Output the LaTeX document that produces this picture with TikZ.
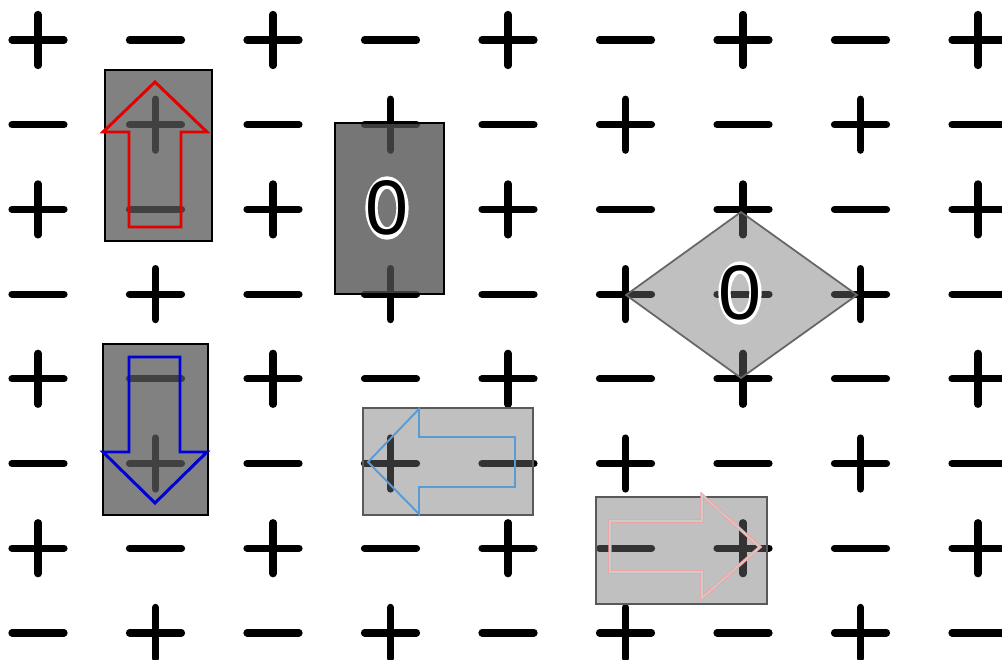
\documentclass[tikz,border=0pt]{standalone}
\usepackage{fontspec}
\setmainfont{Liberation Sans}
\begin{document}
\begin{tikzpicture}[x=0.02cm,y=-0.02cm,
  sign/.style={line width=4.1pt,line cap=round,black},
  darkbox/.style={draw=black,line width=1.2pt,fill=black!66,fill opacity=0.75},
  zerobox/.style={draw=black,line width=1.2pt,fill=black!69,fill opacity=0.78},
  lightbox/.style={draw=black!65,line width=1.1pt,fill=black!55,fill opacity=0.45},
  halo/.style={draw=white,line width=7pt},
  zero/.style={inner sep=0pt,font=\fontsize{44}{48}\selectfont}
]
\useasboundingbox (0,0) rectangle (1002,660);

% checkerboard of charges: + where column+row is even, - otherwise;
% the charge under the upright neutral cell is covered by its label
\foreach \i in {0,...,8}{
  \foreach \j in {0,...,7}{
    \pgfmathsetmacro{\cx}{38+117.5*\i}
    \pgfmathsetmacro{\cy}{40+84.7*\j}
    \pgfmathtruncatemacro{\parity}{mod(\i+\j,2)}
    \pgfmathtruncatemacro{\hidden}{(\i==3)&&(\j==2)}
    \ifnum\hidden=0
      \draw[sign] (\cx-26,\cy) -- (\cx+26,\cy);
      \ifnum\parity=0
        \draw[sign] (\cx,\cy-25.5) -- (\cx,\cy+25.5);
      \fi
    \fi
  }
}

% dipole pointing up
\draw[darkbox] (105,70) rectangle (212,241);
\draw[red!90!black,line width=1.7pt,line join=miter]
  (155,82) -- (207,132) -- (181,132) -- (181,227) -- (129,227) -- (129,132) -- (103,132) -- cycle;

% dipole pointing down
\draw[darkbox] (103,344) rectangle (208,515);
\draw[blue!85!black,line width=1.7pt,line join=miter]
  (129,357) -- (180,357) -- (180,452) -- (207,452) -- (155,503) -- (103,452) -- (129,452) -- cycle;

% neutral cell, vertical
\draw[zerobox] (335,123) rectangle (444,294);
\draw[halo] (387,208) ellipse [x radius=0.31cm,y radius=0.51cm];
\node[zero] (z1) at (387,208) {0};

% neutral cell, diamond
\draw[lightbox,draw=black!60,line width=1pt] (741,212) -- (857,295) -- (741,378) -- (626,295) -- cycle;
\draw[halo] (740,293) ellipse [x radius=0.31cm,y radius=0.51cm];
\node[zero] (z2) at (740,293) {0};

% dipole pointing left
\draw[lightbox] (363,408) rectangle (533,515);
\draw[color={rgb,255:red,91;green,155;blue,213},line width=1.1pt,line join=miter]
  (368,462) -- (419,409) -- (419,437) -- (515,437) -- (515,487) -- (419,487) -- (419,514) -- cycle;

% dipole pointing right
\draw[lightbox] (596,497) rectangle (767,604);
\draw[red!40,line width=0.45pt,double=black!20,double distance=0.9pt,line join=miter]
  (610,521) -- (702,521) -- (702,495) -- (760,547) -- (702,598) -- (702,572) -- (610,572) -- cycle;
\end{tikzpicture}
\end{document}
